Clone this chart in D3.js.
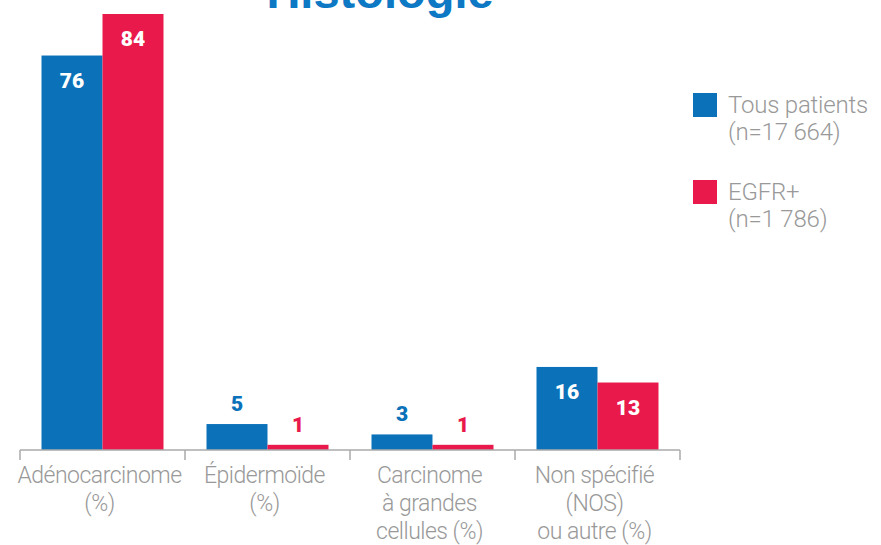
<!DOCTYPE html>
<html>
<head>
<meta charset="utf-8">
<script src="https://cdn.jsdelivr.net/npm/d3@7"></script>
<style>
  body { margin: 0; background: #fff; }
  svg { display: block; }
</style>
</head>
<body>
<div id="chart"></div>
<script>
// data
const categories = ["Adénocarcinome", "Épidermoïde", "Carcinome", "Non spécifié"];
const categoryLines = [
    ["Adénocarcinome", "(%)"],
    ["Épidermoïde", "(%)"],
    ["Carcinome", "à grandes", "cellules (%)"],
    ["Non spécifié", "(NOS)", "ou autre (%)"]
];
const seriesNames = ["Tous patients", "EGFR+"];
const seriesSub = ["(n=17 664)", "(n=1 786)"];
const tousPatients = [76, 5, 3, 16];
const egfr = [84, 1, 1, 13];

const width = 881;
const height = 545;
const blue = "#0b72b9";
const red = "#e91a4b";
const grey = "#999999";

const svg = d3.select("#chart").append("svg")
    .attr("width", width)
    .attr("height", height);

// title, mostly cut off at the top (as in the original)
svg.append("text")
    .attr("x", 380)
    .attr("y", 8)
    .attr("text-anchor", "middle")
    .style("font-family", "Liberation Sans, Arial, sans-serif")
    .style("font-weight", "bold")
    .style("font-size", "47px")
    .style("fill", "#0d78c4")
    .text("Histologie");

const baseY = 450;

const x = d3.scaleBand()
    .domain(categories)
    .range([20, 680])
    .paddingInner(0)
    .paddingOuter(0);

const x1 = d3.scaleBand()
    .domain(seriesNames)
    .range([0, 122]);

const y = d3.scaleLinear()
    .domain([0, 84])
    .range([baseY, 14]);

const rows = categories.map((c, i) => ({ cat: c, values: [tousPatients[i], egfr[i]] }));
const colors = [blue, red];

const groups = svg.selectAll("g.group")
    .data(rows)
    .enter().append("g")
    .attr("class", "group")
    .attr("transform", d => `translate(${x(d.cat) + x.bandwidth() / 2 - 61},0)`);

groups.selectAll("rect")
    .data(d => d.values.map((v, j) => ({ v: v, s: seriesNames[j], j: j })))
    .enter().append("rect")
    .attr("x", d => x1(d.s))
    .attr("y", d => y(d.v))
    .attr("width", x1.bandwidth())
    .attr("height", d => baseY - y(d.v))
    .attr("fill", d => colors[d.j]);

// value labels: inside the bar when big, above it in bar colour when small
groups.selectAll("text.val")
    .data(d => d.values.map((v, j) => ({ v: v, s: seriesNames[j], j: j })))
    .enter().append("text")
    .attr("class", "val")
    .attr("x", d => x1(d.s) + x1.bandwidth() / 2)
    .attr("y", d => d.v >= 10 ? y(d.v) + 32 : y(d.v) - 13)
    .attr("text-anchor", "middle")
    .style("font-family", "Roboto, sans-serif")
    .style("font-weight", "900")
    .style("font-size", "21px")
    .style("fill", d => d.v >= 10 ? "#fff" : colors[d.j])
    .text(d => d.v);

// axis line with tick marks at band edges
const axisG = svg.append("g")
    .attr("transform", `translate(0,${baseY})`);

axisG.append("line")
    .attr("x1", x.range()[0])
    .attr("x2", x.range()[1])
    .attr("stroke", "#aaa")
    .attr("stroke-width", 1.5);

const edges = categories.map(c => x(c)).concat([x.range()[1]]);
axisG.selectAll("line.tick")
    .data(edges)
    .enter().append("line")
    .attr("class", "tick")
    .attr("x1", d => d)
    .attr("x2", d => d)
    .attr("y1", 0)
    .attr("y2", 10)
    .attr("stroke", "#aaa")
    .attr("stroke-width", 1.5);

// category labels
categoryLines.forEach((lines, i) => {
    const cx = x(categories[i]) + x.bandwidth() / 2 - 3;
    lines.forEach((ln, k) => {
        svg.append("text")
            .attr("x", cx)
            .attr("y", 483 + k * 28)
            .attr("text-anchor", "middle")
            .style("font-family", "Roboto, sans-serif")
            .style("font-weight", "300")
            .style("font-size", "23px")
            .style("letter-spacing", "-0.5px")
            .style("fill", grey)
            .text(ln);
    });
});

// legend
const legend = svg.append("g").attr("transform", "translate(693,93)");
seriesNames.forEach((s, j) => {
    const g = legend.append("g").attr("transform", `translate(0,${j * 87})`);
    g.append("rect")
        .attr("width", 24)
        .attr("height", 24)
        .attr("fill", colors[j]);
    [s, seriesSub[j]].forEach((t, k) => {
        g.append("text")
            .attr("x", 35)
            .attr("y", 20 + k * 27)
            .style("font-family", "Roboto, sans-serif")
            .style("font-weight", "300")
            .style("font-size", "24px")
            .style("letter-spacing", "-0.2px")
            .style("fill", grey)
            .text(t);
    });
});
</script>
</body>
</html>
